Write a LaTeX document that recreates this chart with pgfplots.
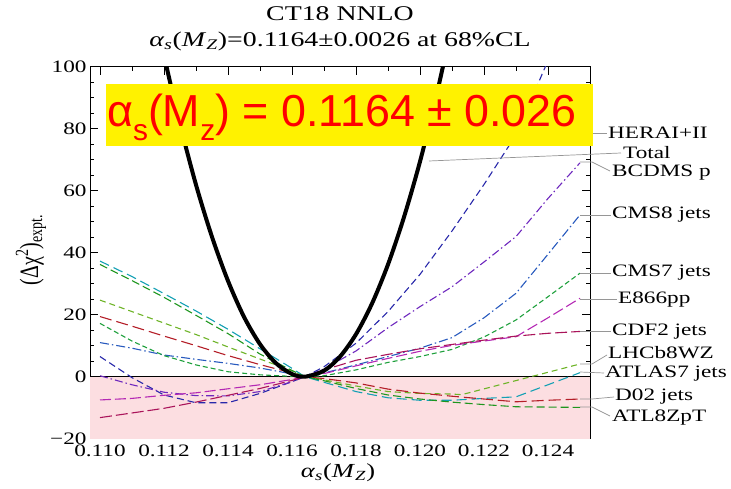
\documentclass[border=0pt]{standalone}
\usepackage{fontspec}
\setmainfont{Liberation Serif}
\newfontfamily\sansf{Liberation Sans}
\usepackage{graphicx}
\usepackage{pgfplots}
\pgfplotsset{compat=1.18}
\newcommand{\sx}[1]{\scalebox{1.33}[1]{#1}}
\definecolor{herablue}{RGB}{40,40,170}
\definecolor{bcdms}{RGB}{110,40,190}
\definecolor{cmseight}{RGB}{40,90,190}
\definecolor{cmsseven}{RGB}{30,160,60}
\definecolor{eeight}{RGB}{180,40,180}
\definecolor{cdf}{RGB}{170,20,90}
\definecolor{lhcb}{RGB}{110,180,40}
\definecolor{atlasseven}{RGB}{20,160,180}
\definecolor{dzero}{RGB}{180,30,40}
\definecolor{atleight}{RGB}{30,150,30}
\definecolor{pinkband}{RGB}{252,222,225}
\definecolor{leader}{RGB}{150,150,150}
\begin{document}
\begin{tikzpicture}
\useasboundingbox (0,0) rectangle (731bp,489bp);
\begin{axis}[
  at={(90bp,50.3bp)}, anchor=south west,
  width=500bp, height=372bp, scale only axis,
  xmin=0.1096875, xmax=0.1253125, ymin=-20, ymax=100,
  scaled ticks=false,
  xtick={0.110,0.112,0.114,0.116,0.118,0.120,0.122,0.124},
  xticklabels={\sx{0.110},\sx{0.112},\sx{0.114},\sx{0.116},\sx{0.118},\sx{0.120},\sx{0.122},\sx{0.124}},
  ytick={-20,0,20,40,60,80,100},
  yticklabels={\sx{−20},\sx{0},\sx{20},\sx{40},\sx{60},\sx{80},\sx{100}},
  minor x tick num=1, minor y tick num=3,
  major tick length=8bp, minor tick length=4bp,
  tick style={black, line width=0.6bp},
  axis line style={black, line width=0.8bp},
  ticklabel style={font=\fontsize{17.5}{17.5}\selectfont},
  xticklabel style={yshift=-3bp},
  clip=true,
]
\addplot[draw=none, fill=pinkband] coordinates {(0.1096875,-20) (0.1253125,-20) (0.1253125,0) (0.1096875,0)} -- cycle;
\addplot[black, line width=0.6bp] coordinates {(0.1096875,0) (0.1253125,0)};
% HERAI+II
\addplot[herablue, line width=1.1bp, dash pattern=on 7bp off 4bp] coordinates {
(0.110,6.5)(0.111,-0.3)(0.112,-5.9)(0.113,-8.4)(0.114,-8.4)(0.115,-5.4)(0.116,-1.6)(0.1164,0)
(0.117,3.2)(0.118,10.8)(0.119,21)(0.120,33)(0.121,47)(0.122,62)(0.123,78)(0.124,102)(0.125,126)};
% BCDMS p
\addplot[bcdms, line width=1.1bp, dash pattern=on 8bp off 3bp on 1.5bp off 3bp] coordinates {
(0.110,0.3)(0.111,-2.6)(0.112,-5.0)(0.113,-6.1)(0.114,-6.2)(0.115,-4.8)(0.116,-1.6)(0.1164,0)
(0.117,2.5)(0.118,8.3)(0.119,15.8)(0.120,22.6)(0.121,29.0)(0.122,37.0)(0.123,45.2)(0.124,57.5)(0.125,69.0)};
% CMS8 jets
\addplot[cmseight, line width=1.1bp, dash pattern=on 9bp off 3bp on 1.5bp off 3bp] coordinates {
(0.110,11.0)(0.111,9.2)(0.112,7.0)(0.113,5.6)(0.114,4.3)(0.115,2.8)(0.116,0.9)(0.1164,0)
(0.117,1.2)(0.118,3.8)(0.119,6.5)(0.120,9.2)(0.121,12.6)(0.122,19.0)(0.123,26.9)(0.124,39.5)(0.125,52.2)};
% CMS7 jets
\addplot[cmsseven, line width=1.1bp, dash pattern=on 5bp off 3bp] coordinates {
(0.110,17.2)(0.111,11.5)(0.112,6.8)(0.113,3.8)(0.114,1.6)(0.115,0.6)(0.116,0.1)(0.1164,0)
(0.117,0.3)(0.118,2.2)(0.119,4.6)(0.120,6.5)(0.121,8.8)(0.122,12.8)(0.123,18.3)(0.124,25.8)(0.125,33.4)};
% E866pp
\addplot[eeight, line width=1.1bp, dash pattern=on 11bp off 4bp] coordinates {
(0.110,-7.5)(0.111,-7.0)(0.112,-6.0)(0.113,-5.2)(0.114,-3.9)(0.115,-2.6)(0.116,-0.9)(0.1164,0)
(0.117,1.0)(0.118,3.5)(0.119,5.9)(0.120,8.2)(0.121,10.1)(0.122,11.5)(0.123,12.9)(0.124,19.0)(0.125,25.3)};
% CDF2 jets
\addplot[cdf, line width=1.1bp, dash pattern=on 12bp off 4bp] coordinates {
(0.110,-13.2)(0.111,-11.7)(0.112,-10.2)(0.113,-8.2)(0.114,-6.0)(0.115,-3.8)(0.116,-1.2)(0.1164,0)
(0.117,2.2)(0.118,5.3)(0.119,7.2)(0.120,9.0)(0.121,10.4)(0.122,11.8)(0.123,13.1)(0.124,14.0)(0.125,14.6)};
% LHCb8WZ
\addplot[lhcb, line width=1.1bp, dash pattern=on 6bp off 4bp] coordinates {
(0.110,24.7)(0.111,21.0)(0.112,17.3)(0.113,13.6)(0.114,9.6)(0.115,5.7)(0.116,1.9)(0.1164,0)
(0.117,-1.0)(0.118,-3.0)(0.119,-4.8)(0.120,-5.4)(0.121,-5.6)(0.1213,-5.8)(0.125,4.1)};
% ATLAS7 jets
\addplot[atlasseven, line width=1.1bp, dash pattern=on 10bp off 5bp] coordinates {
(0.110,37.3)(0.111,32.3)(0.112,26.8)(0.113,21.2)(0.114,15.3)(0.115,9.0)(0.116,2.7)(0.1164,0)
(0.117,-1.8)(0.118,-4.8)(0.119,-6.8)(0.120,-7.6)(0.121,-7.6)(0.122,-7.0)(0.123,-6.5)(0.124,-2.6)(0.125,1.3)};
% D02 jets
\addplot[dzero, line width=1.1bp, dash pattern=on 12bp off 5bp] coordinates {
(0.110,19.4)(0.111,16.3)(0.112,13.1)(0.113,10.0)(0.114,6.8)(0.115,3.9)(0.116,1.2)(0.1164,0)
(0.117,-0.6)(0.118,-2.0)(0.119,-4.0)(0.120,-5.3)(0.121,-6.3)(0.122,-7.2)(0.123,-8.1)(0.124,-7.6)(0.125,-7.2)};
% ATL8ZpT
\addplot[atleight, line width=1.1bp, dash pattern=on 8bp off 4bp] coordinates {
(0.110,36.2)(0.111,31.0)(0.112,25.6)(0.113,19.8)(0.114,13.9)(0.115,7.3)(0.116,2.0)(0.1164,0)
(0.117,-1.3)(0.118,-3.8)(0.119,-5.9)(0.120,-7.2)(0.121,-8.2)(0.122,-9.0)(0.123,-9.7)(0.124,-9.8)(0.125,-9.9)};
% Total
\addplot[black, line width=4bp, smooth] coordinates {
(0.1115,128.6)(0.1120,103.7)(0.1125,81.5)(0.1130,61.9)(0.1135,45.1)(0.1140,30.9)(0.1145,19.3)
(0.1150,10.5)(0.1155,4.34)(0.1160,0.86)(0.1164,0)(0.1170,1.93)(0.1175,6.48)(0.1180,13.7)
(0.1185,23.6)(0.1190,36.2)(0.1195,51.5)(0.1200,69.4)(0.1205,90.1)(0.1210,113.4)};
\end{axis}
% titles
\node[anchor=base, inner sep=0] at (340bp,468.3bp) {\fontsize{21}{21}\selectfont\sx{CT18 NNLO}};
\node[anchor=base, inner sep=0] at (340bp,442.3bp) {\fontsize{21}{21}\selectfont\sx{\textit{α}\textsubscript{\textit{s}}(\textit{M}\textsubscript{\textit{Z}})=0.1164±0.0026 at 68\%CL}};
\node[inner sep=0] at (338bp,16bp) {\fontsize{20}{20}\selectfont\sx{\textit{α}\textsubscript{\textit{s}}(\textit{M}\textsubscript{\textit{Z}})}};
\node[rotate=90, inner sep=0] at (31bp,239bp) {\fontsize{20}{20}\selectfont\scalebox{1}[1.33]{(Δχ\textsuperscript{2})\textsubscript{expt.}}};
% yellow box
\fill[yellow] (106bp,343bp) rectangle (593bp,405bp);
\node[anchor=base west, inner sep=0, text=red] at (107bp,362.3bp) {\sansf\fontsize{45}{45}\selectfont α\raisebox{-0.3em}{\fontsize{30}{30}\selectfont s}(M\raisebox{-0.3em}{\fontsize{30}{30}\selectfont z}) = 0.1164 ± 0.026};
% leader lines
\begin{scope}[leader, line width=0.7bp]
\draw (593bp,356bp) -- (607bp,356bp);
\draw (429bp,328bp) -- (621bp,336bp);
\draw (580bp,327bp) -- (592bp,327bp) -- (610bp,318bp);
\draw (580bp,274bp) -- (611bp,274bp);
\draw (580bp,216bp) -- (611bp,216bp);
\draw (580bp,190bp) -- (617bp,190bp);
\draw (580bp,158bp) -- (611bp,158bp);
\draw (580bp,125bp) -- (592bp,125bp) -- (607bp,134bp);
\draw (580bp,117bp) -- (604bp,116bp);
\draw (580bp,90bp) -- (592bp,90bp) -- (614bp,92bp);
\draw (580bp,82bp) -- (592bp,82bp) -- (610bp,73bp);
\end{scope}
\begin{scope}[every node/.style={anchor=west, inner sep=0, font=\fontsize{17.5}{17.5}\selectfont}]
\node at (608bp,356bp) {\sx{HERAI+II}};
\node at (623bp,336bp) {\sx{Total}};
\node at (612bp,316bp) {\sx{BCDMS p}};
\node at (612bp,274bp) {\sx{CMS8 jets}};
\node at (612bp,216bp) {\sx{CMS7 jets}};
\node at (618bp,189bp) {\sx{E866pp}};
\node at (612bp,157bp) {\sx{CDF2 jets}};
\node at (608bp,136bp) {\sx{LHCb8WZ}};
\node at (605bp,115bp) {\sx{ATLAS7 jets}};
\node at (615bp,92bp) {\sx{D02 jets}};
\node at (612bp,71bp) {\sx{ATL8ZpT}};
\end{scope}
\end{tikzpicture}
\end{document}
